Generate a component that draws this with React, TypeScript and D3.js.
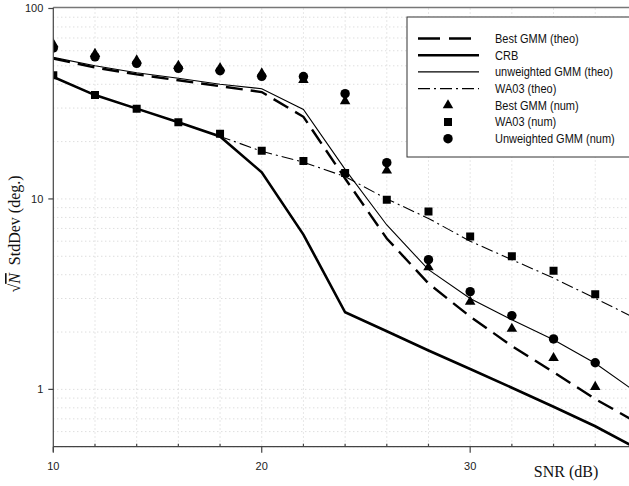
import * as d3 from "d3";
import { useEffect, useRef } from "react";

// SNR points (dB)
const snrNum = [10, 12, 14, 16, 18, 20, 22, 24, 26, 28, 30, 32, 34, 36];
const snrTheo = [10, 12, 14, 16, 18, 20, 22, 24, 26, 28, 30, 32, 34, 36, 38];

// theoretical curves
const bestGmmTheo = [54.6, 49.0, 45.1, 42.0, 39.1, 36.4, 27.0, 12.8, 6.2, 3.6, 2.41, 1.69, 1.23, 0.89, 0.67];
const crbTheo = [43.7, 35.1, 29.8, 25.3, 21.3, 13.8, 6.5, 2.54, 2.02, 1.6, 1.28, 1.02, 0.81, 0.64, 0.49];
const unweightedTheo = [55.4, 50.0, 46.0, 43.0, 40.0, 37.9, 29.5, 14.3, 7.3, 4.25, 3.0, 2.32, 1.82, 1.37, 0.96];
const wa03Theo = [43.7, 35.1, 29.8, 25.3, 21.3, 17.8, 15.6, 13.1, 10.0, 7.9, 6.0, 4.8, 3.84, 3.01, 2.34];

// numerical results
const bestGmmNum = [65, 57.8, 53.4, 50, 48.6, 45.6, 42.1, 32.6, 14.1, 4.38, 2.89, 2.08, 1.46, 1.03];
const wa03Num = [44.6, 35.1, 29.8, 25.3, 22.0, 17.9, 15.8, 13.7, 9.9, 8.6, 6.35, 5.0, 4.2, 3.16];
const unweightedNum = [62, 55.7, 51.5, 48.5, 47.1, 44, 43.9, 35.7, 15.5, 4.8, 3.26, 2.44, 1.84, 1.38];

const xTicks = [10, 20, 30];
const yTicks = [1, 10, 100];

const legendLabels = [
  "Best GMM (theo)",
  "CRB",
  "unweighted GMM (theo)",
  "WA03 (theo)",
  "Best GMM (num)",
  "WA03 (num)",
  "Unweighted GMM (num)",
];

export default function App() {
  const svgRef = useRef(null);
  const width = 629;
  const height = 486;

  useEffect(() => {
    const svg = d3.select(svgRef.current);
    svg.selectAll("*").remove();

    const left = 53.3, right = 629, top = 8.5, bottom = 446.7;
    const x = d3.scaleLinear().domain([10, 37.62]).range([left, right]);
    const y = d3.scaleLog().domain([0.5, 100]).range([bottom, top]);

    svg.append("rect").attr("width", width).attr("height", height).attr("fill", "#fff");

    // GRID
    const grid = svg.append("g").attr("stroke", "#cfcfcf").attr("stroke-dasharray", "1,3");
    d3.range(12, 38, 2).forEach((v) => {
      grid.append("line").attr("x1", x(v)).attr("x2", x(v)).attr("y1", top).attr("y2", bottom);
    });
    const minors = [];
    [0.1, 1, 10].forEach((d) => d3.range(1, 10).forEach((m) => minors.push(m * d)));
    minors.filter((v) => v >= 0.5 && v < 100).forEach((v) => {
      grid.append("line").attr("x1", left).attr("x2", right).attr("y1", y(v)).attr("y2", y(v));
    });

    // FRAME
    svg.append("line").attr("x1", left).attr("x2", right).attr("y1", top - 1).attr("y2", top - 1)
      .attr("stroke", "#777").attr("stroke-width", 1.5);

    // LINES
    const clip = svg.append("clipPath").attr("id", "plotclip");
    clip.append("rect").attr("x", left).attr("y", top).attr("width", right - left).attr("height", bottom - top);
    const plot = svg.append("g").attr("clip-path", "url(#plotclip)");
    const line = d3.line().x((d) => x(d[0])).y((d) => y(d[1]));
    const series = [
      { vals: bestGmmTheo, w: 2.4, dash: "17,8" },
      { vals: crbTheo, w: 2.6, dash: null },
      { vals: unweightedTheo, w: 1.1, dash: null },
      { vals: wa03Theo, w: 1.1, dash: "12,4,2,4" },
    ];
    series.forEach((s) => {
      plot.append("path")
        .attr("d", line(snrTheo.map((v, i) => [v, s.vals[i]])))
        .attr("fill", "none")
        .attr("stroke", "#000")
        .attr("stroke-width", s.w)
        .attr("stroke-dasharray", s.dash);
    });

    // MARKERS
    const tri = d3.symbol().type(d3.symbolTriangle).size(48)();
    const sq = d3.symbol().type(d3.symbolSquare).size(64)();
    const circ = d3.symbol().type(d3.symbolCircle).size(70)();
    const markers = [
      { vals: unweightedNum, path: circ },
      { vals: bestGmmNum, path: tri },
      { vals: wa03Num, path: sq },
    ];
    markers.forEach((m) => {
      plot.selectAll(null)
        .data(snrNum.map((v, i) => [v, m.vals[i]]))
        .enter()
        .append("path")
        .attr("d", m.path)
        .attr("transform", (d) => `translate(${x(d[0])},${y(d[1])})`)
        .attr("fill", "#000");
    });

    // AXES
    const ax = svg.append("g").attr("stroke", "#444").attr("stroke-width", 1.2);
    ax.append("line").attr("x1", left).attr("x2", left).attr("y1", top - 1).attr("y2", bottom + 5);
    ax.append("line").attr("x1", left).attr("x2", right).attr("y1", bottom).attr("y2", bottom);
    d3.range(12, 38, 2).filter((v) => !xTicks.includes(v)).forEach((v) => {
      ax.append("line").attr("x1", x(v)).attr("x2", x(v)).attr("y1", bottom - 3).attr("y2", bottom);
    });
    xTicks.forEach((v) => {
      ax.append("line").attr("x1", x(v)).attr("x2", x(v)).attr("y1", bottom).attr("y2", bottom + 6);
    });
    yTicks.forEach((v) => {
      ax.append("line").attr("x1", left - 5).attr("x2", left).attr("y1", y(v)).attr("y2", y(v));
    });

    const sans = "'Liberation Sans', Arial, sans-serif";
    const serif = "'Liberation Serif', 'Times New Roman', serif";
    svg.selectAll(null).data(xTicks).enter().append("text")
      .attr("x", (d) => x(d)).attr("y", bottom + 23)
      .attr("text-anchor", "middle")
      .attr("font-family", sans).attr("font-size", 11).attr("fill", "#222")
      .text((d) => d);
    svg.selectAll(null).data(yTicks).enter().append("text")
      .attr("x", left - 10).attr("y", (d) => y(d)).attr("dy", "0.35em")
      .attr("text-anchor", "end")
      .attr("font-family", sans).attr("font-size", 11).attr("fill", "#222")
      .text((d) => d);

    svg.append("text")
      .attr("x", 566).attr("y", 477)
      .attr("text-anchor", "middle")
      .attr("font-family", serif).attr("font-size", 16).attr("fill", "#111")
      .text("SNR (dB)");

    const yl = svg.append("text")
      .attr("transform", "translate(20,234) rotate(-90)")
      .attr("text-anchor", "middle")
      .attr("font-family", serif).attr("font-size", 16).attr("fill", "#111");
    yl.append("tspan").text("\u221A");
    yl.append("tspan").attr("font-style", "italic").style("text-decoration", "overline").text("N");
    yl.append("tspan").text("\u2002StdDev (deg.)");

    // LEGEND
    const lg = svg.append("g");
    lg.append("rect").attr("x", 407).attr("y", 17).attr("width", 240).attr("height", 140)
      .attr("fill", "#fff").attr("stroke", "#333").attr("stroke-width", 1);
    legendLabels.forEach((label, i) => {
      const ly = 38.5 + i * 16.7;
      if (i < 4) {
        const s = series[i];
        lg.append("line").attr("x1", 418).attr("x2", 479).attr("y1", ly).attr("y2", ly)
          .attr("stroke", "#000").attr("stroke-width", s.w)
          .attr("stroke-dasharray", i === 0 ? "22,9" : s.dash);
      } else {
        const p = [tri, sq, circ][i - 4];
        lg.append("path").attr("d", p).attr("transform", `translate(448,${ly})`).attr("fill", "#000");
      }
      lg.append("text")
        .attr("transform", `translate(495,${ly}) scale(0.88,1)`)
        .attr("dy", "0.35em")
        .attr("font-family", sans).attr("font-size", 12.5).attr("fill", "#111")
        .text(label);
    });
  }, []);

  return (
    <svg
      ref={svgRef}
      width={width}
      height={height}
      style={{ position: "absolute", left: 0, top: 0 }}
    />
  );
}
